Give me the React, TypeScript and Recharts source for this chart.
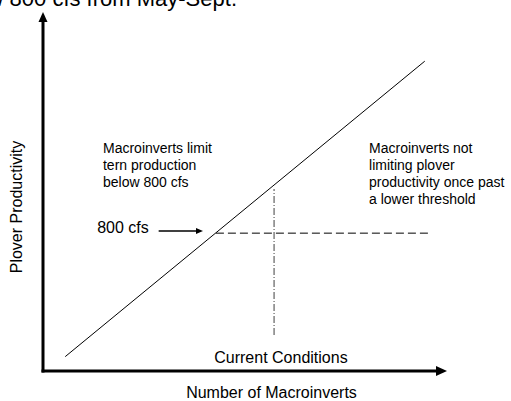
import { ComposedChart, Line, XAxis, YAxis, ReferenceLine, ReferenceDot } from 'recharts';

// trend line (relative units, 0-100 on both axes)
const trendX = [5.5, 94.5];
const trendY = [4, 86.3];

// 800 cfs threshold (horizontal dashed) and current conditions (vertical dash-dot)
const thresholdY = 38.4;
const thresholdFrom = 42.8;
const thresholdTo = 96.2;
const currentX = 57.2;
const currentFrom = 10;
const currentTo = 50.7;

// small pointer arrow next to "800 cfs"
const cfsArrowX = [29, 39.6];
const cfsArrowY = 39;

const leftNote = ['Macroinverts limit', 'tern production', 'below 800 cfs'];
const rightNote = ['Macroinverts not', 'limiting plover', 'productivity once past', 'a lower threshold'];
const leftNoteAt = { x: 14.85, y: 60.7 };
const rightNoteAt = { x: 80.7, y: 60.7 };
const cfsLabel = '800 cfs';
const cfsLabelAt = { x: 13.4, y: 38.4 };
const currentLabel = 'Current Conditions';
const currentLabelAt = { x: 58.9, y: 2.2 };

const titleText = 'below 800 cfs from May-Sept.';
const xTitle = 'Number of Macroinverts';
const yTitle = 'Plover Productivity';

const data = trendX.map((x, i) => ({ x, y: trendY[i] }));

const FONT = '"Liberation Sans", Arial, sans-serif';

function ArrowLine(props: any) {
  const { x1, y1, x2, y2, width, head, headW } = props;
  const dx = x2 - x1;
  const dy = y2 - y1;
  const len = Math.sqrt(dx * dx + dy * dy) || 1;
  const ux = dx / len;
  const uy = dy / len;
  const bx = x2 - ux * head;
  const by = y2 - uy * head;
  const px = -uy * headW / 2;
  const py = ux * headW / 2;
  return (
    <g>
      <line x1={x1 - ux * (width > 1 ? 1.5 : 0)} y1={y1 - uy * (width > 1 ? 1.5 : 0)} x2={bx + ux} y2={by + uy} stroke="#000" strokeWidth={width} />
      <polygon points={`${x2},${y2} ${bx + px},${by + py} ${bx - px},${by - py}`} fill="#000" />
    </g>
  );
}

function Note(props: any) {
  const { cx, cy, lines, size, anchor } = props;
  return (
    <text x={cx} y={cy} fontFamily={FONT} fontSize={size} fill="#000" textAnchor={anchor || 'start'}>
      {lines.map((l: string, i: number) => (
        <tspan key={i} x={cx} dy={i === 0 ? 0 : 17}>
          {l}
        </tspan>
      ))}
    </text>
  );
}

export default function App() {
  return (
    <div style={{ position: 'absolute', left: 0, top: 0, background: '#fff' }}>
      <ComposedChart width={511} height={401} data={data} margin={{ top: 12, right: 64, bottom: 30, left: 43 }}>
        <XAxis dataKey="x" type="number" domain={[0, 100]} hide />
        <YAxis type="number" domain={[0, 100]} hide />

        <ReferenceLine
          segment={[{ x: 0, y: 0 }, { x: 100, y: 0 }]}
          shape={(p: any) => <ArrowLine {...p} width={3} head={11} headW={10} />}
        />
        <ReferenceLine
          segment={[{ x: 0, y: 0 }, { x: 0, y: 100 }]}
          shape={(p: any) => <ArrowLine {...p} width={3} head={10} headW={9} />}
        />

        <ReferenceLine
          segment={[{ x: thresholdFrom, y: thresholdY }, { x: thresholdTo, y: thresholdY }]}
          stroke="#000"
          strokeWidth={1}
          strokeDasharray="8 4"
        />
        <ReferenceLine
          segment={[{ x: currentX, y: currentFrom }, { x: currentX, y: currentTo }]}
          stroke="#808080"
          strokeWidth={1.5}
          strokeDasharray="7 2 1 2"
        />
        <ReferenceLine
          segment={[{ x: cfsArrowX[0], y: cfsArrowY }, { x: cfsArrowX[1], y: cfsArrowY }]}
          shape={(p: any) => <ArrowLine {...p} width={1.3} head={7} headW={6} />}
        />

        <Line dataKey="y" type="linear" stroke="#000" strokeWidth={1} dot={false} isAnimationActive={false} />

        <ReferenceDot x={leftNoteAt.x} y={leftNoteAt.y} r={0} shape={(p: any) => <Note {...p} lines={leftNote} size={14} />} />
        <ReferenceDot x={rightNoteAt.x} y={rightNoteAt.y} r={0} shape={(p: any) => <Note {...p} lines={rightNote} size={14} />} />
        <ReferenceDot x={cfsLabelAt.x} y={cfsLabelAt.y} r={0} shape={(p: any) => <Note {...p} lines={[cfsLabel]} size={16} />} />
        <ReferenceDot
          x={currentLabelAt.x}
          y={currentLabelAt.y}
          r={0}
          shape={(p: any) => <Note {...p} lines={[currentLabel]} size={16} anchor="middle" />}
        />

        <text x={237} y={5.5} textAnchor="end" fontFamily={FONT} fontSize={22} fill="#000">
          {titleText}
        </text>
        <text x={271.5} y={398} textAnchor="middle" fontFamily={FONT} fontSize={16} fill="#000">
          {xTitle}
        </text>
        <text x={22} y={207} transform="rotate(-90 22 207)" textAnchor="middle" fontFamily={FONT} fontSize={16} fill="#000">
          {yTitle}
        </text>
      </ComposedChart>
    </div>
  );
}
